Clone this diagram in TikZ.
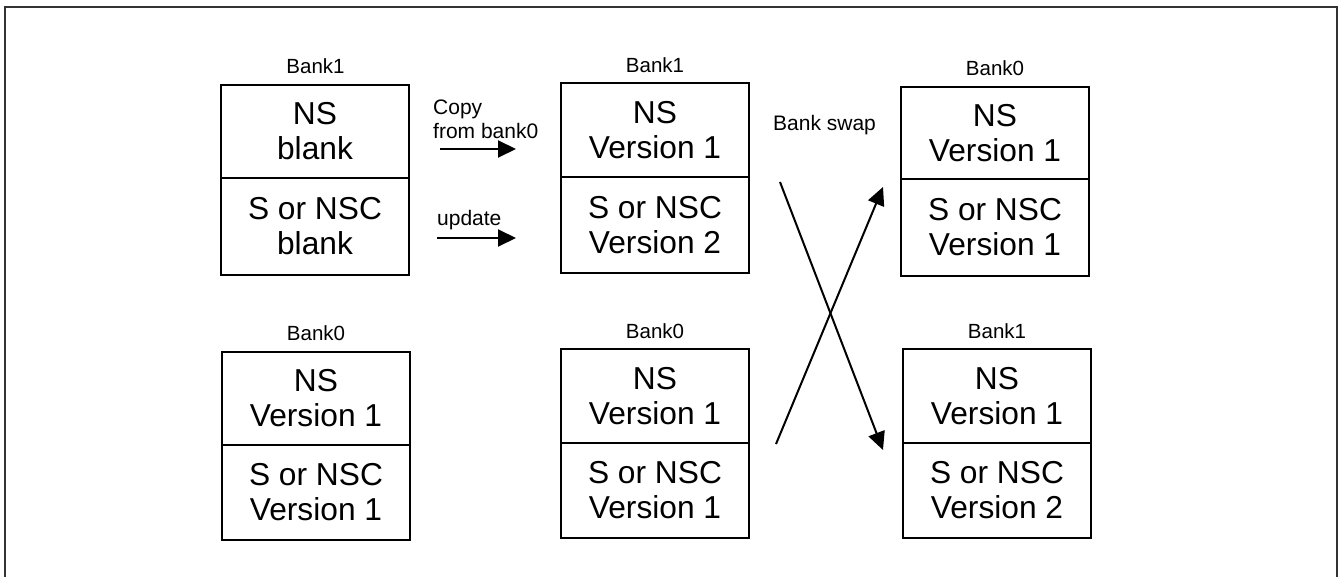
\documentclass[tikz,border=0pt]{standalone}
\usepackage{fontspec}
\setmainfont{Liberation Sans}
\usetikzlibrary{arrows.meta}
\tikzset{
  half/.style={draw=black, line width=2pt, rectangle, minimum width=188pt, inner sep=0pt, outer sep=0pt, align=center,
    font=\fontsize{31.7}{35}\selectfont},
  banklabel/.style={inner sep=0pt, anchor=base, font=\fontsize{20.5}{24}\selectfont},
  small/.style={inner sep=0pt, font=\fontsize{21}{24}\selectfont},
  arr/.style={line width=2pt, -{Triangle[length=18pt, width=17pt]}},
  frame/.style={line width=2pt, draw=black!80}
}
\begin{document}
\begin{tikzpicture}[x=1pt, y=-1pt]
\useasboundingbox (0,0) rectangle (1341,576);
\draw[frame] (5,580) -- (5,7) -- (1337,7) -- (1337,580);

% Box 1 (top left)
\node[half, minimum height=93pt, anchor=north west] (b1t) at (221,85) {NS\\blank};
\node[half, minimum height=97pt, anchor=north] (b1b) at (b1t.south) {S or NSC\\blank};
\node[banklabel] (l1) at (315.5,73) {Bank1};

% Box 2 (top middle)
\node[half, minimum height=94pt, anchor=north west] (b2t) at (561,83) {NS\\Version 1};
\node[half, minimum height=96pt, anchor=north] (b2b) at (b2t.south) {S or NSC\\Version 2};
\node[banklabel] (l2) at (655,72) {Bank1};

% Box 3 (top right)
\node[half, minimum height=92pt, anchor=north west] (b3t) at (901,87) {NS\\Version 1};
\node[half, minimum height=97pt, anchor=north] (b3b) at (b3t.south) {S or NSC\\Version 1};
\node[banklabel] (l3) at (995,75) {Bank0};

% Box 4 (bottom left)
\node[half, minimum height=93pt, anchor=north west] (b4t) at (222,352) {NS\\Version 1};
\node[half, minimum height=95pt, anchor=north] (b4b) at (b4t.south) {S or NSC\\Version 1};
\node[banklabel] (l4) at (316,340) {Bank0};

% Box 5 (bottom middle)
\node[half, minimum height=94pt, anchor=north west] (b5t) at (561,349) {NS\\Version 1};
\node[half, minimum height=95pt, anchor=north] (b5b) at (b5t.south) {S or NSC\\Version 1};
\node[banklabel] (l5) at (655,338) {Bank0};

% Box 6 (bottom right)
\node[half, minimum height=94pt, anchor=north west] (b6t) at (903,349) {NS\\Version 1};
\node[half, minimum height=95pt, anchor=north] (b6b) at (b6t.south) {S or NSC\\Version 2};
\node[banklabel] (l6) at (997,338) {Bank1};

% labels
\node[small, align=left, anchor=west] (copy) at (433,119) {Copy\\from bank0};
\node[small, anchor=base west] (upd) at (437,225) {update};
\node[small, anchor=base west] (swap) at (773,130) {Bank swap};

% horizontal arrows
\coordinate (a1s) at (440,149);
\coordinate (a1e) at (516,149);
\coordinate (a2s) at (437,238);
\coordinate (a2e) at (516,238);
\draw[arr] (a1s) -- (a1e);
\draw[arr] (a2s) -- (a2e);

% cross arrows
\coordinate (c1s) at (780,182);
\coordinate (c1e) at (883,450);
\coordinate (c2s) at (776,444);
\coordinate (c2e) at (883,187);
\draw[arr] (c1s) -- (c1e);
\draw[arr] (c2s) -- (c2e);
\end{tikzpicture}
\end{document}
